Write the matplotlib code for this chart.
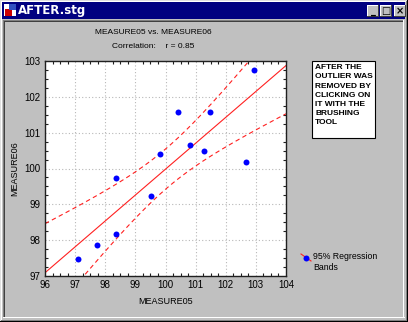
import numpy as np
import matplotlib
matplotlib.use('Agg')
import matplotlib.pyplot as plt
from matplotlib.patches import Rectangle
from matplotlib.lines import Line2D
from matplotlib.ticker import MultipleLocator

plt.rcParams['font.family'] = ['Liberation Sans', 'DejaVu Sans']

# Data.
measure05 = [97.09, 97.71, 98.37, 98.37, 99.53, 99.83, 100.41, 100.81, 101.28, 101.49, 102.66, 102.93]
measure06 = [97.48, 97.87, 98.18, 99.73, 99.24, 100.40, 101.57, 100.65, 100.48, 101.59, 100.18, 102.76]
x_ticks = [96, 97, 98, 99, 100, 101, 102, 103, 104]
y_ticks = [97, 98, 99, 100, 101, 102, 103]
t_975 = 2.228  # t quantile, 10 degrees of freedom

W, H = 408, 322
fig = plt.figure(figsize=(W / 100, H / 100), dpi=100)
fig.patch.set_facecolor('#c0c0c0')


def box(x0, y0, x1, y1, **kw):
    """Rectangle in pixel coordinates measured from the top-left corner."""
    r = Rectangle((x0 / W, 1 - y1 / H), (x1 - x0) / W, (y1 - y0) / H,
                  transform=fig.transFigure, **kw)
    fig.add_artist(r)
    return r


def hline(x0, x1, y, c):
    box(x0, y, x1, y + 1, facecolor=c, edgecolor='none')


def vline(x, y0, y1, c):
    box(x, y0, x + 1, y1, facecolor=c, edgecolor='none')


# Window frame.
hline(0, W, 0, '#dfdfdf'); vline(0, 0, H, '#dfdfdf')
hline(1, W - 1, 1, '#ffffff'); vline(1, 1, H - 1, '#ffffff')
hline(0, W, H - 1, '#000000'); vline(W - 1, 0, H, '#000000')
hline(1, W - 1, H - 2, '#808080'); vline(W - 2, 1, H - 1, '#808080')

# Title bar.
box(2, 2, W - 3, 19, facecolor='#000080', edgecolor='none')
box(4, 4, 16, 16, facecolor='#ffffff', edgecolor='none')
box(5, 9, 12, 16, facecolor='#cc0000', edgecolor='none')
box(9, 4, 16, 10, facecolor='#3050c0', edgecolor='none')
fig.text(18 / W, 1 - 10.5 / H, 'AFTER.stg', color='white', fontsize=8.5,
         fontweight='bold', va='center', ha='left', family=['DejaVu Sans'])
for bx, sym in [(367, '_'), (380, '□'), (394, '×')]:
    box(bx, 5, bx + 12, 17, facecolor='#c0c0c0', edgecolor='none')
    hline(bx, bx + 12, 5, '#ffffff'); vline(bx, 5, 17, '#ffffff')
    hline(bx, bx + 12, 16, '#404040'); vline(bx + 11, 5, 17, '#404040')
    fig.text((bx + 6) / W, 1 - 11 / H, sym, color='black', fontsize=7,
             fontweight='bold', ha='center', va='center', family=['DejaVu Sans'])

# Sunken client edge.
hline(3, W - 4, 20, '#808080'); vline(3, 20, H - 4, '#808080')
hline(4, W - 5, 21, '#404040'); vline(4, 21, H - 5, '#404040')
hline(3, W - 3, H - 5, '#ffffff'); vline(W - 5, 20, H - 4, '#ffffff')

# Titles.
fig.text(153 / W, 1 - 33 / H, 'MEASURE05 vs. MEASURE06', fontsize=6, ha='center', va='center')
fig.text(153 / W, 1 - 47 / H, 'Correlation:    r = 0.85', fontsize=6, ha='center', va='center')

# Plot area.
ax = fig.add_axes([45 / W, 1 - 276 / H, 241 / W, 215 / H])
ax.set_facecolor('white')
ax.set_xlim(96, 104)
ax.set_ylim(97, 103)
ax.set_xticks(x_ticks)
ax.set_yticks(y_ticks)
ax.xaxis.set_minor_locator(MultipleLocator(0.25))
ax.yaxis.set_minor_locator(MultipleLocator(0.25))
ax.tick_params(which='both', direction='in', top=True, right=True, labelsize=7,
               color='#202020', pad=3)
ax.tick_params(which='major', length=0)
ax.tick_params(which='minor', length=2, width=0.8)
ax.grid(True, which='major', color='#b8b8b8', linestyle=(0, (1, 2)), linewidth=0.8)
ax.set_axisbelow(True)
for s in ax.spines.values():
    s.set_color('#202020')
    s.set_linewidth(1)

# Regression line and 95% bands for the mean.
x = np.array(measure05)
y = np.array(measure06)
slope, intercept = np.polyfit(x, y, 1)
n = len(x)
resid = y - (slope * x + intercept)
s_err = np.sqrt(np.sum(resid ** 2) / (n - 2))
sxx = np.sum((x - x.mean()) ** 2)
xs = np.linspace(96, 104, 200)
fit = slope * xs + intercept
half = t_975 * s_err * np.sqrt(1 / n + (xs - x.mean()) ** 2 / sxx)
ax.plot(xs, fit, color='#ff2020', linewidth=0.8)
ax.plot(xs, fit + half, color='#ff2020', linewidth=0.8, linestyle=(0, (4, 3)))
ax.plot(xs, fit - half, color='#ff2020', linewidth=0.8, linestyle=(0, (4, 3)))
ax.plot(x, y, 'o', color='#0000ff', markersize=4.3, markeredgewidth=0)

ax.set_xlabel('MEASURE05', fontsize=6.5, labelpad=5)
ax.set_ylabel('MEASURE06', fontsize=6.5, labelpad=4)

# Annotation box.
box(312, 61, 375, 138, facecolor='white', edgecolor='black', linewidth=0.8)
fig.text(315 / W, 1 - 64 / H,
         'AFTER THE\nOUTLIER WAS\nREMOVED BY\nCLICKING ON\nIT WITH THE\nBRUSHING\nTOOL',
         fontsize=6, fontweight='bold', ha='left', va='top', linespacing=1.45)

# Legend entry.
fig.add_artist(Line2D([301 / W, 311 / W], [1 - 254 / H, 1 - 261 / H],
                      transform=fig.transFigure, color='#ff2020', linewidth=0.8))
fig.add_artist(Line2D([306 / W], [1 - 257.5 / H], transform=fig.transFigure,
                      marker='o', color='#0000ff', markersize=4.3, markeredgewidth=0))
fig.text(313 / W, 1 - 262 / H, '95% Regression\nBands', fontsize=6.3, ha='left',
         va='center', linespacing=1.3)

fig.savefig('out.png', dpi=100, facecolor=fig.get_facecolor())
